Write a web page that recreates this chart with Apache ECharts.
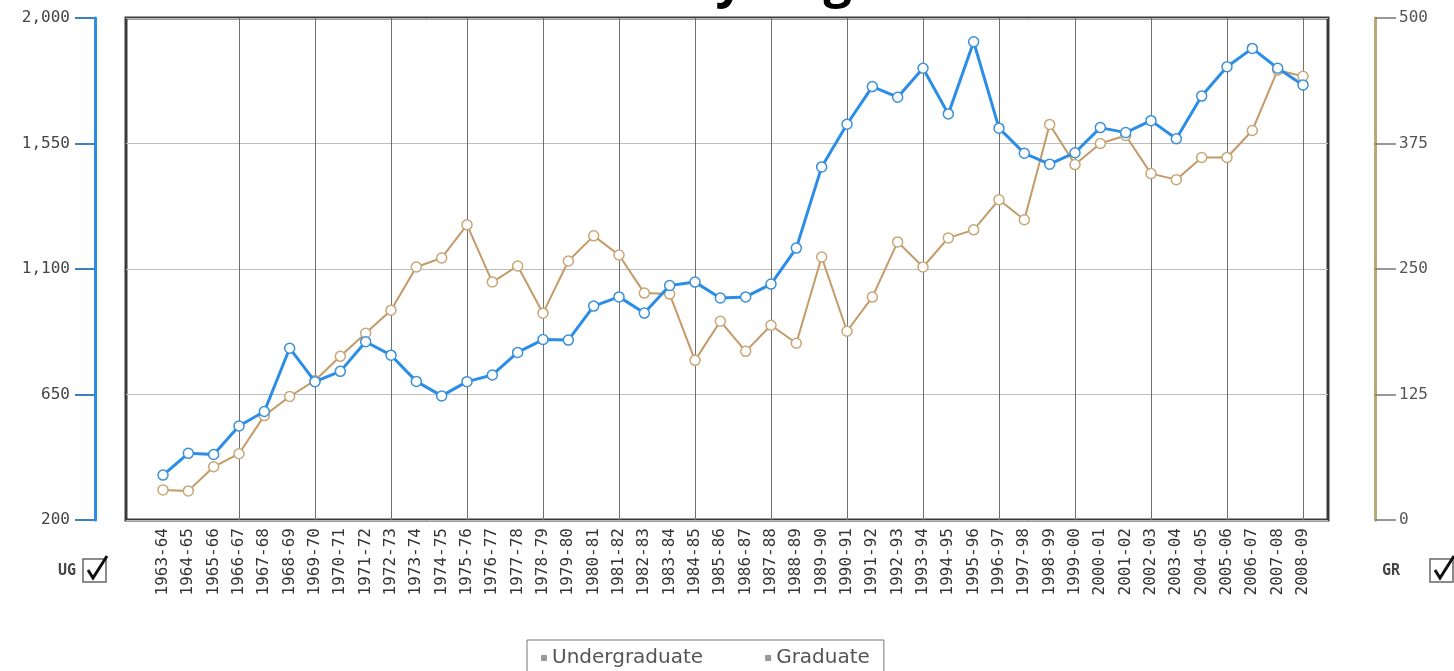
<!DOCTYPE html>
<html>
<head>
<meta charset="utf-8">
<script src="https://cdn.jsdelivr.net/npm/echarts@6/dist/echarts.min.js"></script>
<style>
html,body{margin:0;padding:0;background:#fff;}
#chart{width:1454px;height:671px;}
</style>
</head>
<body>
<div id="chart"></div>
<script>
const titleText = 'Enrollment by Degree Level';
const categories = ['1963-64','1964-65','1965-66','1966-67','1967-68','1968-69','1969-70','1970-71','1971-72','1972-73',
  '1973-74','1974-75','1975-76','1976-77','1977-78','1978-79','1979-80','1980-81','1981-82','1982-83',
  '1983-84','1984-85','1985-86','1986-87','1987-88','1988-89','1989-90','1990-91','1991-92','1992-93',
  '1993-94','1994-95','1995-96','1996-97','1997-98','1998-99','1999-00','2000-01','2001-02','2002-03',
  '2003-04','2004-05','2005-06','2006-07','2007-08','2008-09'];
const undergraduate = [361,439,435,537,589,816,696,733,839,791,697,645,696,720,801,847,845,967,1000,942,
  1041,1053,996,1000,1046,1175,1466,1619,1754,1716,1820,1656,1915,1605,1515,1476,1517,1607,1589,1632,
  1567,1720,1825,1891,1820,1760];
const graduate = [30,29,53,66,104,123,139,163,186,209,252,261,294,237,253,206,258,283,264,226,
  225,159,198,168,194,176,262,188,222,277,252,281,289,319,299,394,354,375,383,345,
  339,361,361,388,448,442];
const ugTicks = {min:200, max:2000, interval:450};
const grTicks = {min:0, max:500, interval:125};
const seriesNames = ['Undergraduate','Graduate'];

const UG_COLOR = '#2b8de6';
const GR_COLOR = '#c49a68';
const MONO = '"DejaVu Sans Mono", monospace';

const chart = echarts.init(document.getElementById('chart'));

function checkbox(labelX, boxX, label) {
  return [
    {type:'text', x:labelX, y:571, style:{text:label, font:'bold 15px ' + MONO, fill:'#444', textVerticalAlign:'middle'}},
    {type:'rect', shape:{x:boxX, y:559, width:23, height:23}, style:{fill:'#fff', stroke:'#666', lineWidth:1.5}},
    {type:'polyline', shape:{points:[[boxX+5,570],[boxX+10,578],[boxX+24,556]]}, style:{stroke:'#111', lineWidth:3, fill:null}}
  ];
}

const option = {
  backgroundColor:'#fff',
  animation:false,
  graphic: [
    {type:'text', x:735, y:8, style:{text:titleText, font:'bold 50px "Open Sans", sans-serif', fill:'#000', textAlign:'center', textVerticalAlign:'bottom'}},
    ...checkbox(58, 83, 'UG'),
    ...checkbox(1382, 1430, 'GR')
  ],
  legend: {
    data: [
      {name:seriesNames[0], itemStyle:{color:'#999', borderWidth:0}},
      {name:seriesNames[1], itemStyle:{color:'#999', borderWidth:0}}
    ],
    left:527, top:640,
    icon:'rect', itemWidth:6, itemHeight:6, itemGap:62,
    borderColor:'#777', borderWidth:1, padding:[8,14,12,14],
    textStyle:{fontFamily:'"DejaVu Sans", sans-serif', fontSize:20, color:'#555'}
  },
  grid: [
    {left:126, right:126, top:18, bottom:151, show:true, borderColor:'#3a3a3a', borderWidth:3, backgroundColor:'transparent'},
    {left:163, right:151, top:18, bottom:151}
  ],
  xAxis: [
    {type:'value', gridIndex:0, min:0, max:1, show:false},
    {type:'category', gridIndex:1, data:categories, boundaryGap:false,
      axisLine:{show:false}, axisTick:{show:false},
      axisLabel:{rotate:90, margin:8, interval:0, fontFamily:MONO, fontSize:16, color:'#333'},
      splitLine:{show:true, interval:function(i){return i % 3 === 0 && i !== 0;}, lineStyle:{color:'#707070', width:1}}
    }
  ],
  yAxis: [
    {type:'value', gridIndex:0, min:ugTicks.min, max:ugTicks.max, interval:ugTicks.interval,
      axisLine:{show:false}, axisTick:{show:false}, axisLabel:{show:false},
      splitLine:{show:true, lineStyle:{color:'#bdbdbd', width:1}}},
    {type:'value', gridIndex:1, position:'left', offset:68,
      min:ugTicks.min, max:ugTicks.max, interval:ugTicks.interval,
      axisLine:{show:true, lineStyle:{color:UG_COLOR, width:3}},
      axisTick:{show:true, length:20, lineStyle:{color:'#3b7fc4', width:2}},
      axisLabel:{margin:25, fontFamily:MONO, fontSize:16, color:'#444',
        formatter:function(v){return v.toLocaleString('en-US');}},
      splitLine:{show:false}},
    {type:'value', gridIndex:1, position:'right', offset:72,
      min:grTicks.min, max:grTicks.max, interval:grTicks.interval,
      axisLine:{show:true, lineStyle:{color:'#b9a878', width:3}},
      axisTick:{show:true, length:21, lineStyle:{color:'#777', width:1.5}},
      axisLabel:{margin:24, fontFamily:MONO, fontSize:16, color:'#555'},
      splitLine:{show:false}}
  ],
  series: [
    {name:seriesNames[1], type:'line', xAxisIndex:1, yAxisIndex:2, data:graduate,
      symbol:'circle', symbolSize:10, showAllSymbol:true,
      lineStyle:{color:GR_COLOR, width:2},
      itemStyle:{color:'#fff', borderColor:'#c8a777', borderWidth:1.5}, z:2},
    {name:seriesNames[0], type:'line', xAxisIndex:1, yAxisIndex:1, data:undergraduate,
      symbol:'circle', symbolSize:10, showAllSymbol:true,
      lineStyle:{color:UG_COLOR, width:3},
      itemStyle:{color:'#fff', borderColor:'#3a90d8', borderWidth:1.5}, z:3}
  ]
};
chart.setOption(option);
</script>
</body>
</html>
